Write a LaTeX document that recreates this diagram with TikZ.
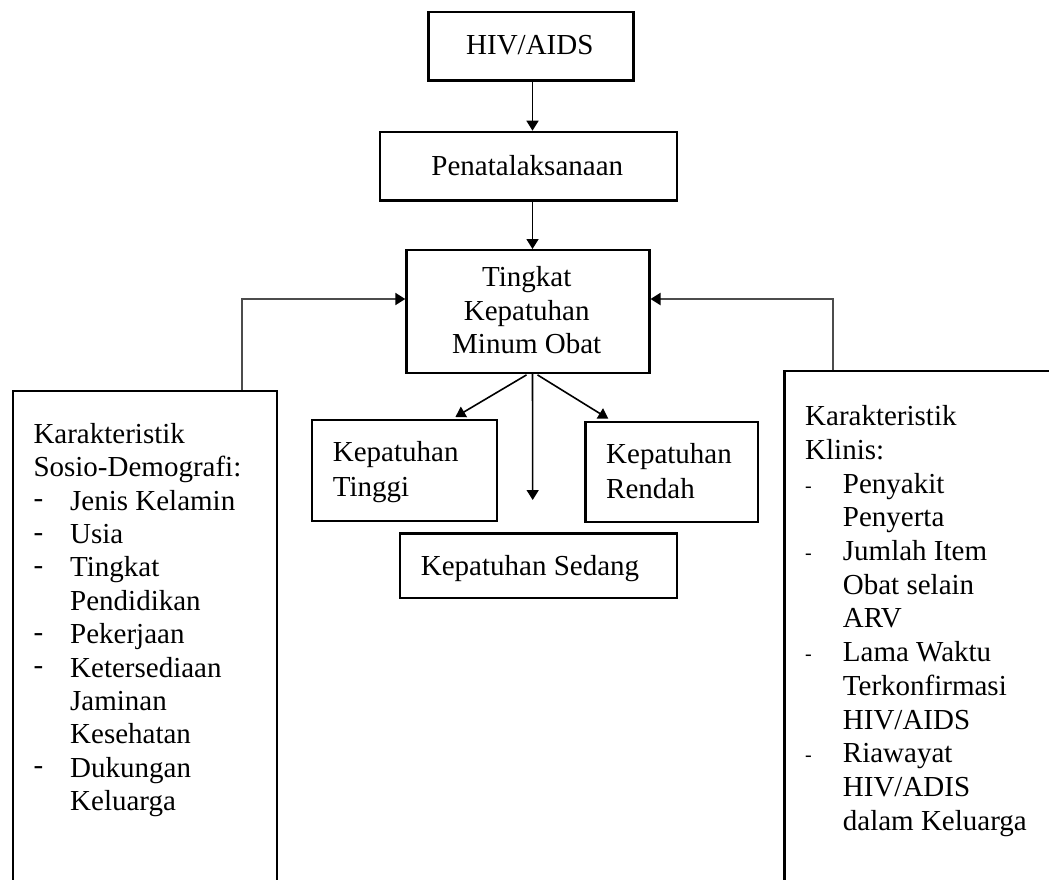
\documentclass[tikz,border=0pt]{standalone}
\usepackage{fontspec}
\setmainfont{Liberation Serif}
\usetikzlibrary{arrows.meta,calc}
\newcommand\myLdash{\makebox[36.7pt][l]{\raisebox{2.5pt}{-}}}
\newcommand\myLind{\hspace*{36.7pt}}
\newcommand\myRdash{\makebox[37.7pt][l]{\raisebox{1pt}{\fontsize{20}{20}\selectfont -}}}
\newcommand\myRind{\hspace*{37.7pt}}
\begin{document}
\begin{tikzpicture}[x=1pt,y=-1pt,
  box/.style={draw, line width=2.2pt, rectangle, inner sep=0pt, anchor=north west},
  arr/.style={line width=1.6pt, -{Triangle[length=10pt,width=12pt]}},
  fb/.style={line width=1.9pt, draw=black!70, -{Triangle[length=10pt,width=12pt,color=black]}},
  txt/.style={inner sep=0pt, font=\fontsize{29}{33.4}\selectfont},
  txtb/.style={inner sep=0pt, font=\fontsize{29}{35}\selectfont},
  txtr/.style={inner sep=0pt, font=\fontsize{29}{33.7}\selectfont}
]
\useasboundingbox (0,0) rectangle (1049,879);
\clip (0,0) rectangle (1049,879);
\fill[white] (0,0) rectangle (1049,879);

% boxes
\node[box, minimum width=205pt, minimum height=68.6pt] (hiv) at (427.3,10.7) {};
\node[box, minimum width=296.7pt, minimum height=68.6pt] (pen) at (379,130.7) {};
\node[box, minimum width=243pt, minimum height=122.7pt] (tk) at (405.3,249) {};
\node[box, minimum width=185pt, minimum height=101pt] (tinggi) at (310.7,419) {};
\node[box, minimum width=172.4pt, minimum height=100.3pt] (rendah) at (584.3,420.7) {};
\node[box, minimum width=276.7pt, minimum height=64.4pt] (sedang) at (399,532.3) {};
\node[box, minimum width=264.3pt, minimum height=520pt] (sosio) at (11.7,390) {};
\node[box, minimum width=300pt, minimum height=540pt] (klinis) at (783.3,370) {};

% texts
\node[txt, anchor=base] (thiv) at (529.8,54.6) {HIV/AIDS};
\node[txt, anchor=base] (tpen) at (527.3,175.7) {Penatalaksanaan};
\node[txt, anchor=base] (ttk) at (526.7,286.7) {\begin{tabular}[t]{@{}c@{}}Tingkat\\Kepatuhan\\Minum Obat\end{tabular}};
\node[txtb, anchor=base west] (ttinggi) at (332.7,461.7) {\begin{tabular}[t]{@{}l@{}}Kepatuhan\\Tinggi\end{tabular}};
\node[txtb, anchor=base west] (trendah) at (606,463.3) {\begin{tabular}[t]{@{}l@{}}Kepatuhan\\Rendah\end{tabular}};
\node[txt, anchor=base west] (tsedang) at (420.7,575.7) {Kepatuhan Sedang};
\node[txt, anchor=base west] (tsosio) at (33.3,443.3) {\begin{tabular}[t]{@{}l@{}}
Karakteristik\\
Sosio-Demografi:\\
\myLdash Jenis Kelamin\\
\myLdash Usia\\
\myLdash Tingkat\\
\myLind Pendidikan\\
\myLdash Pekerjaan\\
\myLdash Ketersediaan\\
\myLind Jaminan\\
\myLind Kesehatan\\
\myLdash Dukungan\\
\myLind Keluarga
\end{tabular}};
\node[txtr, anchor=base west] (tklinis) at (805,425.7) {\begin{tabular}[t]{@{}l@{}}
Karakteristik\\
Klinis:\\
\myRdash Penyakit\\
\myRind Penyerta\\
\myRdash Jumlah Item\\
\myRind Obat selain\\
\myRind ARV\\
\myRdash Lama Waktu\\
\myRind Terkonfirmasi\\
\myRind HIV/AIDS\\
\myRdash Riawayat\\
\myRind HIV/ADIS\\
\myRind dalam Keluarga
\end{tabular}};

% connectors
\coordinate (axis) at (532.5,0);
\coordinate (lcorner) at (241.7,299);
\coordinate (rcorner) at (832.7,299);
\coordinate (sedEnd) at (532.7,500);
\draw[arr] (hiv.south -| axis) -- (pen.north -| axis);
\draw[arr] (pen.south -| axis) -- (tk.north -| axis);
\draw[arr] ($(tk.south -| axis)+(-6,1)$) -- ($(tinggi.north east)+(-42.5,-2)$);
\draw[arr] ($(tk.south -| axis)+(5,1)$) -- ($(rendah.north west)+(24,-2)$);
\draw[arr] (tk.south -| axis) -- (sedEnd);
\draw[fb] (sosio.north -| lcorner) -- (lcorner) -- (lcorner -| tk.west);
\draw[fb] (klinis.north -| rcorner) -- (rcorner) -- (rcorner -| tk.east);
\end{tikzpicture}
\end{document}
